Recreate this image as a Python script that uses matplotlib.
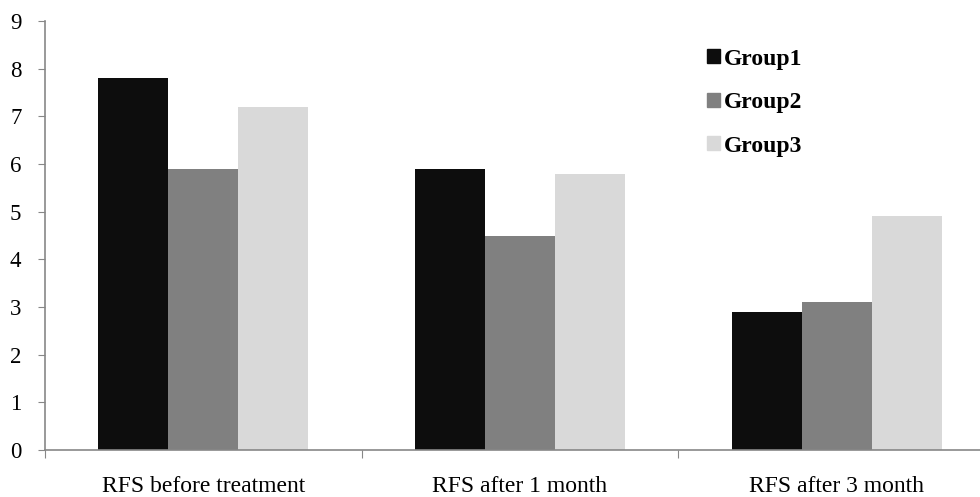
import numpy as np
import matplotlib.pyplot as plt
from matplotlib.patches import Patch

# Data
categories = ['RFS before treatment', 'RFS after 1 month', 'RFS after 3 month']
groups = ['Group1', 'Group2', 'Group3']
group1 = [7.8, 5.9, 2.9]
group2 = [5.9, 4.5, 3.1]
group3 = [7.2, 5.8, 4.9]
colors = ['#0d0d0d', '#808080', '#d9d9d9']

plt.rcParams['font.family'] = ['Liberation Serif', 'DejaVu Serif']

fig = plt.figure(figsize=(9.8, 4.97), dpi=100)
# axes runs slightly past the right edge, like the original
ax = fig.add_axes([45 / 980, 47 / 497, 950 / 980, 429 / 497])

x = np.arange(len(categories))
w = 0.221
for i, (vals, c) in enumerate(zip([group1, group2, group3], colors)):
    ax.bar(x + (i - 1) * w, vals, width=w, color=c, label=groups[i])

ax.set_xlim(-0.5, 2.5)
ax.set_ylim(0, 9)
ax.set_yticks(range(10))
ax.tick_params(axis='y', labelsize=16.5, length=5, color='#878787', pad=12)

# boundary ticks (major) and centered labels (minor)
ax.set_xticks([-0.5, 0.5, 1.5, 2.5])
ax.set_xticklabels([])
ax.set_xticks(x, minor=True)
ax.set_xticklabels(categories, minor=True)
ax.tick_params(axis='x', which='major', length=6, color='#878787')
ax.tick_params(axis='x', which='minor', length=0, labelsize=17, pad=19)

for s in ['top', 'right']:
    ax.spines[s].set_visible(False)
for s in ['left', 'bottom']:
    ax.spines[s].set_color('#878787')
    ax.spines[s].set_linewidth(1.2)

handles = [Patch(color=c) for c in colors]
leg = ax.legend(handles, groups, loc='upper left', bbox_to_anchor=(0.674, 0.985),
                frameon=False, handlelength=0.55, handleheight=0.55,
                handletextpad=0.2, labelspacing=0.95,
                prop={'weight': 'bold', 'size': 17})

fig.savefig('out.png', dpi=100)
